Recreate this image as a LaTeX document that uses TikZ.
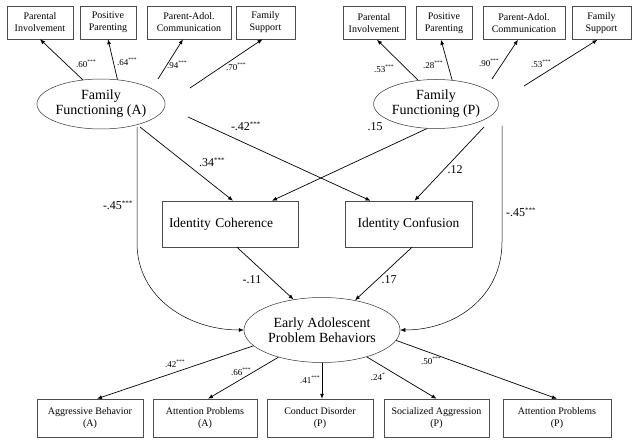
\documentclass[tikz,border=0pt]{standalone}
\usepackage{fontspec}
\setmainfont{Liberation Serif}
\usetikzlibrary{shapes.geometric,arrows.meta}

\newcommand{\stars}[1]{\textsuperscript{\fontsize{5.5}{5.5}\selectfont #1}}
\newcommand{\bigstars}[1]{\textsuperscript{\fontsize{7}{7}\selectfont #1}}

\begin{document}
\begin{tikzpicture}[x=1pt,y=-1pt,
    ind/.style={draw=black!70,line width=0.5pt,minimum height=33pt,inner sep=1pt,align=center,font=\fontsize{10}{12}\selectfont},
    outc/.style={ind,minimum height=38pt},
    lat/.style={draw=black!80,ellipse,line width=0.5pt,inner sep=0pt,align=center,font=\fontsize{14}{15}\selectfont},
    idbox/.style={draw=black!70,line width=0.5pt,minimum width=136pt,minimum height=46pt,font=\fontsize{13.5}{15}\selectfont},
    path/.style={-{Latex[length=5pt,width=4pt]},line width=0.7pt},
    curve/.style={path,line width=0.5pt},
    coef/.style={font=\fontsize{9}{10}\selectfont,inner sep=0pt},
    coefbig/.style={font=\fontsize{12}{13}\selectfont,inner sep=0pt}]
\useasboundingbox (0,0) rectangle (638,444);
            % family indicators (A)
            \node[ind,minimum width=66pt] (piA) at (40,22.5) {Parental\\Involvement};
            \node[ind,minimum width=56pt] (ppA) at (108,22.5) {Positive\\Parenting};
            \node[ind,minimum width=84pt] (pacA) at (189,22.5) {Parent-Adol.\\Communication};
            \node[ind,minimum width=59pt] (fsA) at (265.5,22.5) {Family\\Support};
            % family indicators (P)
            \node[ind,minimum width=62pt] (piP) at (374,23) {Parental\\Involvement};
            \node[ind,minimum width=56pt] (ppP) at (444,23) {Positive\\Parenting};
            \node[ind,minimum width=82pt] (pacP) at (524,23) {Parent-Adol.\\Communication};
            \node[ind,minimum width=59pt] (fsP) at (601.5,23) {Family\\Support};
            % latent variables
            \node[lat,minimum width=120pt,minimum height=50pt] (ffA) at (101,104) {Family\\Functioning (A)};
            \node[lat,minimum width=117pt,minimum height=49pt] (ffP) at (436,104) {Family\\Functioning (P)};
            \node[idbox,text width=122pt,inner xsep=7pt,align=left] (coh) at (230,224) {Identity Coherence};
            \node[idbox,minimum width=127pt] (conf) at (408.5,224) {Identity Confusion};
            \node[lat,minimum width=156pt,minimum height=65pt] (eapb) at (322,330) {Early Adolescent\\Problem Behaviors};
            % outcomes
            \node[outc,minimum width=106pt] (aggA) at (90,418) {Aggressive Behavior\\(A)};
            \node[outc,minimum width=104pt] (attA) at (205,418) {Attention Problems\\(A)};
            \node[outc,minimum width=106pt] (cdP) at (320,418) {Conduct Disorder\\(P)};
            \node[outc,minimum width=105pt] (saP) at (436.5,418) {Socialized Aggression\\(P)};
            \node[outc,minimum width=108pt] (attP) at (557,418) {Attention Problems\\(P)};
            % loose starting points
            \coordinate (ffA-c) at (158,79);
            \coordinate (ffA-s) at (190,88);
            \coordinate (ffA-d) at (188,117);
            \coordinate (ffA-v) at (137,127);
            \coordinate (ffA-i) at (140,127);
            \coordinate (ffP-c) at (492,79);
            \coordinate (ffP-s) at (524,86);
            \coordinate (ffP-d) at (484,127);
            \coordinate (ffP-v) at (502,126);
            % measurement paths
            \draw[path] (ffA.127) -- (piA.south);
            \draw[path] (ffA.56) -- (ppA.south);
            \draw[path] (ffA-c) -- ([xshift=-6pt]pacA.south);
            \draw[path] (ffA-s) -- ([xshift=-3pt]fsA.south);
            \draw[path] (ffP.127) -- ([xshift=3pt]piP.south);
            \draw[path] (ffP.56) -- ([xshift=-3pt]ppP.south);
            \draw[path] (ffP-c) -- ([xshift=-6pt]pacP.south);
            \draw[path] (ffP-s) -- ([xshift=-4pt]fsP.south);
            % structural paths
            \draw[path] (ffA-i) -- ([xshift=3pt]coh.north);
            \draw[path] (ffA-d) -- ([xshift=-38pt]conf.north);
            \draw[path] (ffP.-110) -- ([xshift=42pt]coh.north);
            \draw[path] (ffP-d) -- ([xshift=6pt]conf.north);
            \draw[path] ([xshift=7pt]coh.south) -- (eapb.133);
            \draw[path] ([xshift=3.5pt]conf.south) -- (eapb.42);
            \draw[curve] (ffA-v) -- ++(0,116) .. controls +(0,55) and +(-55,0) .. (eapb.west);
            \draw[curve] (ffP-v) -- ++(0,116) .. controls +(0,55) and +(55,0) .. (eapb.east);
            \draw[path] (eapb.193) -- ([xshift=7pt]aggA.north);
            \draw[path] (eapb.212) -- ([xshift=3pt]attA.north);
            \draw[path] (eapb.south) -- (eapb.south |- cdP.north);
            \draw[path] (eapb.-31) -- (saP.north);
            \draw[path] (eapb.-8) -- (attP.north);
            % coefficients
            \node[coef] (l60) at (86,64) {.60\stars{***}};
            \node[coef] (l64) at (127,62) {.64\stars{***}};
            \node[coef] (l94) at (177,65) {.94\stars{***}};
            \node[coef] (l70) at (236,67) {.70\stars{***}};
            \node[coef] (l53a) at (384,69) {.53\stars{***}};
            \node[coef] (l28) at (433,65) {.28\stars{***}};
            \node[coef] (l90) at (489,63) {.90\stars{***}};
            \node[coef] (l53b) at (541,64) {.53\stars{***}};
            \node[coefbig] (l42a) at (246,126) {-.42\bigstars{***}};
            \node[coefbig] (l34) at (212,162) {.34\bigstars{***}};
            \node[coefbig] (l15) at (375,127) {.15};
            \node[coefbig] (l12) at (455,170) {.12};
            \node[coefbig] (l45a) at (118,205) {-.45\bigstars{***}};
            \node[coefbig] (l45b) at (521,212) {-.45\bigstars{***}};
            \node[coefbig] (l11) at (252,280) {-.11};
            \node[coefbig] (l17) at (389,280) {.17};
            \node[coef] (l42b) at (175,364) {.42\stars{***}};
            \node[coef] (l66) at (241,372) {.66\stars{***}};
            \node[coef] (l41) at (310,380) {.41\stars{***}};
            \node[coef] (l24) at (378,377) {.24\stars{*}};
            \node[coef] (l50) at (431,361) {.50\stars{***}};
\end{tikzpicture}
\end{document}
